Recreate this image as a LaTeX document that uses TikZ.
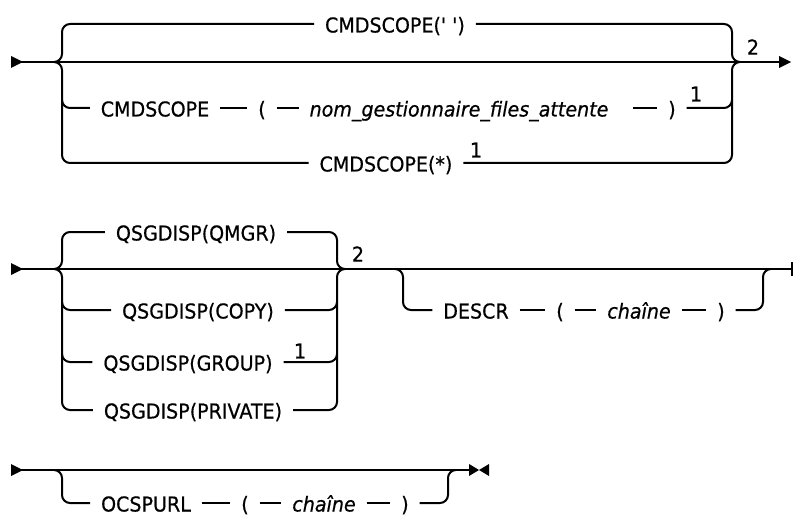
\documentclass[tikz,border=0pt]{standalone}
\usepackage{fontspec}
\newfontfamily\plex{DejaVu Sans}[FakeStretch=0.93,FakeBold=0.6]
\begin{document}
\begin{tikzpicture}[x=1pt,y=-1pt,line width=2pt,
  tok/.style={inner xsep=11pt,inner ysep=0pt,outer sep=0pt,text height=17pt,text depth=0pt,font=\plex\fontsize{20.5}{24}\selectfont},
  var/.style={tok,font=\plex\fontsize{20.5}{24}\selectfont\itshape},
  note/.style={inner sep=0pt,font=\plex\fontsize{20.5}{24}\selectfont},
  rc/.style={rounded corners=8pt}]
\useasboundingbox (0,0) rectangle (793,516);

% ---------- Row 1 ----------
\coordinate (s1) at (11,62);
\coordinate (e1) at (781,62);
\fill (11,56) -- (23,62) -- (11,68) -- cycle;
\fill (779,56) -- (791,62) -- (779,68) -- cycle;
\draw (s1) -- (e1);

\node[tok] (a1) at (395,24) {CMDSCOPE(' ')};
\node[tok] (b1) at (155,108) {CMDSCOPE};
\node[tok] (b2) at (262,108) {(};
\node[var] (b3) at (459,108) {nom\_gestionnaire\_files\_attente};
\node[tok] (b4) at (672,108) {)};
\node[note] (n1) at (696,94) {1};
\node[tok] (c1) at (386,163) {CMDSCOPE(*)};
\node[note] (n2) at (476,150) {1};
\node[note] (n3) at (753,47) {2};

\draw[rc] (a1.west) -- (62,24) -- (62,62) -- (54,62);
\draw[rc] (54,62) -- (62,62) -- (62,163) -- (c1.west);
\draw[rc] (62,100) -- (62,108) -- (b1.west);
\draw[rc] (a1.east) -- (732,24) -- (732,62) -- (740,62);
\draw[rc] (740,62) -- (732,62) -- (732,163) -- (c1.east);
\draw[rc] (b4.east) -- (732,108) -- (732,100);
\draw (b1.east) -- (b2.west);
\draw (b2.east) -- (b3.west);
\draw ([xshift=14pt]b3.east) -- (b4.west);

% ---------- Row 2 ----------
\coordinate (s2) at (11,269);
\coordinate (e2) at (792,269);
\fill (11,263) -- (23,269) -- (11,275) -- cycle;
\draw (s2) -- (e2);
\draw (792,262) -- (792,276);

\node[tok] (q1) at (196,232) {QSGDISP(QMGR)};
\node[tok] (q2) at (198,310) {QSGDISP(COPY)};
\node[tok] (q3) at (188,362) {QSGDISP(GROUP)};
\node[tok] (q4) at (193,410) {QSGDISP(PRIVATE)};
\node[note] (n4) at (300,351) {1};
\node[note] (n5) at (358,254) {2};

\draw[rc] (q1.west) -- (62,232) -- (62,269) -- (54,269);
\draw[rc] (54,269) -- (62,269) -- (62,410) -- (q4.west);
\draw[rc] (62,302) -- (62,310) -- (q2.west);
\draw[rc] (62,354) -- (62,362) -- (q3.west);
\draw[rc] (q1.east) -- (337,232) -- (337,269) -- (345,269);
\draw[rc] (345,269) -- (337,269) -- (337,410) -- (q4.east);
\draw[rc] (q2.east) -- (337,310) -- (337,302);
\draw[rc] (q3.east) -- (337,362) -- (337,354);

\node[tok] (d1) at (476,310) {DESCR};
\node[tok] (d2) at (560,310) {(};
\node[var] (d3) at (639,310) {chaîne};
\node[tok] (d4) at (721,310) {)};
\draw[rc] (395,269) -- (403,269) -- (403,310) -- (d1.west);
\draw (d1.east) -- (d2.west);
\draw (d2.east) -- (d3.west);
\draw (d3.east) -- (d4.west);
\draw[rc] (d4.east) -- (763,310) -- (763,269) -- (771,269);

% ---------- Row 3 ----------
\coordinate (s3) at (11,470);
\coordinate (e3) at (470,470);
\fill (11,464) -- (23,470) -- (11,476) -- cycle;
\draw (s3) -- (e3);
\fill (469,464) -- (479,470) -- (469,476) -- cycle;
\fill (489,464) -- (479,470) -- (489,476) -- cycle;

\node[tok] (o1) at (146,503) {OCSPURL};
\node[tok] (o2) at (245,503) {(};
\node[var] (o3) at (324,503) {chaîne};
\node[tok] (o4) at (405,503) {)};
\draw[rc] (54,470) -- (62,470) -- (62,503) -- (o1.west);
\draw (o1.east) -- (o2.west);
\draw (o2.east) -- (o3.west);
\draw (o3.east) -- (o4.west);
\draw[rc] (o4.east) -- (448,503) -- (448,470) -- (456,470);
\end{tikzpicture}
\end{document}
